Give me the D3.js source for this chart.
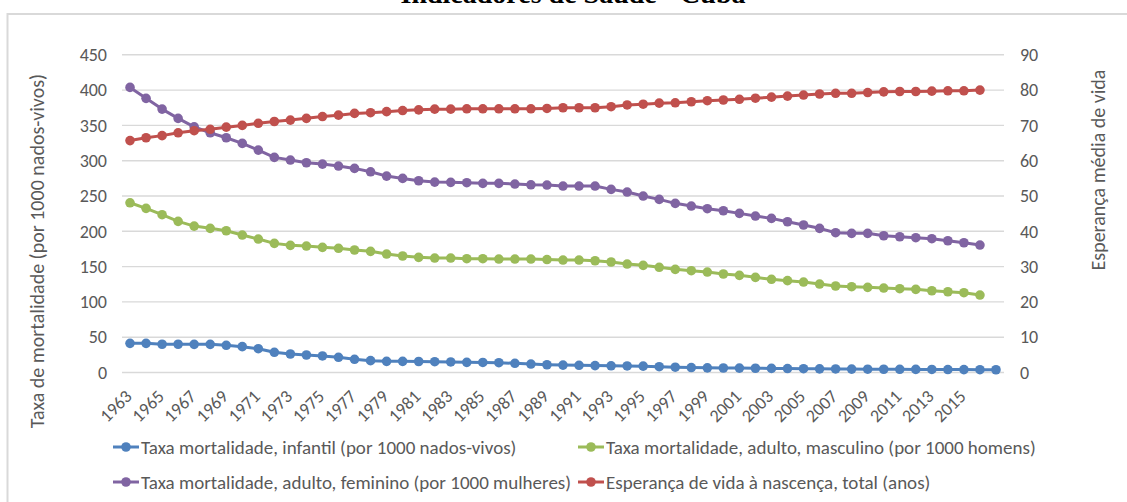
<!DOCTYPE html>
<html>
<head>
<meta charset="utf-8">
<script src="https://cdn.jsdelivr.net/npm/d3@7"></script>
<style>
  html, body { margin: 0; padding: 0; background: #fff; }
  svg { display: block; }
</style>
</head>
<body>
<svg id="chart" width="1127" height="502"></svg>
<script>
const years = [1963,1964,1965,1966,1967,1968,1969,1970,1971,1972,1973,1974,1975,1976,1977,1978,1979,1980,
  1981,1982,1983,1984,1985,1986,1987,1988,1989,1990,1991,1992,1993,1994,1995,1996,1997,1998,1999,2000,
  2001,2002,2003,2004,2005,2006,2007,2008,2009,2010,2011,2012,2013,2014,2015,2016,2017];

const xTickLabels = ["1963","1965","1967","1969","1971","1973","1975","1977","1979","1981","1983","1985",
  "1987","1989","1991","1993","1995","1997","1999","2001","2003","2005","2007","2009","2011","2013","2015"];

const leftTicks = [0,50,100,150,200,250,300,350,400,450];
const rightTicks = [0,10,20,30,40,50,60,70,80,90];

// Taxa mortalidade, infantil (por 1000 nados-vivos) 1963-2017
const infantil = [41.3,41.3,40.0,40.0,39.9,39.9,38.5,36.6,33.7,28.6,26.2,24.8,23.4,21.5,18.7,16.8,15.8,15.8,
  15.6,15.3,14.9,14.4,14.2,13.9,13.0,12.0,11.0,10.5,10.2,9.8,9.5,9.3,9.0,8.2,7.5,7.0,6.6,6.4,
  6.2,6.0,5.8,5.6,5.4,5.2,5.0,4.8,4.7,4.6,4.5,4.4,4.3,4.2,4.1,4.0,3.9];

// Taxa mortalidade, adulto, masculino (por 1000 homens) 1963-2016
const masculino = [240.4,232.5,223.5,214.1,207.4,204.2,200.8,194.7,189.0,182.9,180.1,179.1,177.3,175.9,
  173.5,171.6,167.8,165.0,163.1,162.1,162.1,161.2,161.2,160.7,160.7,160.7,160.0,159.3,159.3,158.3,
  156.5,153.6,151.8,149.0,146.1,144.2,142.3,139.5,137.6,134.8,132.0,130.1,128.1,125.3,122.5,121.5,
  120.6,119.6,118.7,117.8,115.8,114.4,113.0,109.7];

// Taxa mortalidade, adulto, feminino (por 1000 mulheres) 1963-2016
const feminino = [403.8,388.3,373.1,359.9,348.0,339.6,332.5,324.5,315.0,304.7,300.9,297.1,295.2,292.4,
  289.1,284.3,278.2,274.9,271.6,269.7,269.3,268.8,267.9,267.9,266.9,265.9,265.5,264.1,264.1,264.1,
  259.4,255.6,249.9,245.2,239.6,235.8,232.0,229.1,225.4,221.6,218.3,213.5,208.9,204.2,198.0,197.1,
  197.1,193.7,192.3,190.9,189.5,186.6,183.8,180.5];

// Esperança de vida à nascença, total (anos) 1963-2016
const esperanca = [65.7,66.5,67.1,67.9,68.5,68.9,69.5,70.0,70.6,71.1,71.5,72.0,72.5,72.9,73.4,73.6,
  73.9,74.2,74.4,74.6,74.6,74.7,74.7,74.7,74.7,74.7,74.8,75.0,75.0,75.0,75.3,75.8,76.0,76.3,76.4,
  76.7,77.0,77.2,77.4,77.7,78.0,78.3,78.6,78.9,79.1,79.1,79.3,79.5,79.6,79.6,79.7,79.8,79.8,80.0];

const seriesNames = [
  "Taxa mortalidade, infantil (por 1000 nados-vivos)",
  "Taxa mortalidade, adulto, masculino (por 1000 homens)",
  "Taxa mortalidade, adulto, feminino (por 1000 mulheres)",
  "Esperança de vida à nascença, total (anos)"
];
const seriesColors = ["#4f81bd", "#9bbb59", "#8064a2", "#c0504d"];

const titleText = "Indicadores de Saúde - Cuba";
const leftAxisTitle = "Taxa de mortalidade (por 1000 nados-vivos)";
const rightAxisTitle = "Esperança média de vida";

// ---------- layout ----------
const FONT = "Carlito, Lato, 'Open Sans', sans-serif";
const TEXT_COLOR = "#595959";
const GRID_COLOR = "#d9d9d9";
const TICK_SIZE = 18;
const LEGEND_SIZE = 19;
const TITLE_SIZE = 20;
const plot = { left: 122, right: 1004, top: 54.8, bottom: 372.5 };

const svg = d3.select("#chart");
svg.append("rect").attr("width", 1127).attr("height", 502).attr("fill", "#fff");

// outer chart frame (only top & left edges are visible)
svg.append("path")
  .attr("d", "M7.5,520 V14 H1140")
  .attr("fill", "none").attr("stroke", GRID_COLOR).attr("stroke-width", 2);

// title (mostly clipped at the top, as in the reference)
svg.append("text")
  .attr("x", 573).attr("y", 3)
  .attr("text-anchor", "middle")
  .attr("font-family", "'Liberation Serif', 'Times New Roman', serif")
  .attr("font-weight", "bold").attr("font-size", 28)
  .attr("fill", "#000")
  .text(titleText);

const x = d3.scaleBand().domain(years).range([plot.left, plot.right]).padding(0);
const cx = d => x(d) + x.bandwidth() / 2;
const yL = d3.scaleLinear().domain([0, 450]).range([plot.bottom, plot.top]);
const yR = d3.scaleLinear().domain([0, 90]).range([plot.bottom, plot.top]);

// gridlines
svg.append("g").selectAll("line").data(leftTicks).join("line")
  .attr("x1", plot.left).attr("x2", plot.right)
  .attr("y1", d => yL(d)).attr("y2", d => yL(d))
  .attr("stroke", GRID_COLOR).attr("stroke-width", 1.4);

// left axis
const gL = svg.append("g").attr("transform", `translate(${plot.left},0)`)
  .call(d3.axisLeft(yL).tickValues(leftTicks).tickSize(0).tickPadding(15));
gL.select(".domain").remove();
gL.selectAll("text").attr("font-family", FONT).attr("font-size", TICK_SIZE).attr("fill", TEXT_COLOR);

// right axis
const gR = svg.append("g").attr("transform", `translate(${plot.right},0)`)
  .call(d3.axisRight(yR).tickValues(rightTicks).tickSize(0).tickPadding(16));
gR.select(".domain").remove();
gR.selectAll("text").attr("font-family", FONT).attr("font-size", TICK_SIZE).attr("fill", TEXT_COLOR);

// bottom axis
const tickYears = xTickLabels.map(Number);
const gB = svg.append("g").attr("transform", `translate(0,${plot.bottom})`)
  .call(d3.axisBottom(x).tickValues(tickYears).tickSize(0).tickFormat((d, i) => xTickLabels[i]));
gB.select(".domain").remove();
gB.selectAll("text")
  .attr("x", 0).attr("y", 0).attr("dy", null)
  .attr("transform", "translate(3,25) rotate(-45)")
  .style("text-anchor", "end")
  .attr("font-family", FONT).attr("font-size", TICK_SIZE).attr("fill", TEXT_COLOR);

// axis titles
svg.append("text")
  .attr("transform", "translate(37,251) rotate(-90)")
  .attr("text-anchor", "middle").attr("dominant-baseline", "central")
  .attr("font-family", FONT).attr("font-size", TITLE_SIZE).attr("fill", TEXT_COLOR)
  .text(leftAxisTitle);
svg.append("text")
  .attr("transform", "translate(1098,170) rotate(-90)")
  .attr("text-anchor", "middle").attr("dominant-baseline", "central")
  .attr("font-family", FONT).attr("font-size", TITLE_SIZE).attr("fill", TEXT_COLOR)
  .text(rightAxisTitle);

// series
const seriesData = [
  { values: infantil, y: yL },
  { values: masculino, y: yL },
  { values: feminino, y: yL },
  { values: esperanca, y: yR }
];
seriesData.forEach((s, k) => {
  const pts = s.values.map((v, i) => ({ year: years[i], v }));
  const line = d3.line().x(d => cx(d.year)).y(d => s.y(d.v));
  const g = svg.append("g");
  g.append("path").datum(pts).attr("d", line)
    .attr("fill", "none").attr("stroke", seriesColors[k]).attr("stroke-width", 3)
    .attr("stroke-linejoin", "round");
  g.selectAll("circle").data(pts).join("circle")
    .attr("cx", d => cx(d.year)).attr("cy", d => s.y(d.v)).attr("r", 4.8)
    .attr("fill", seriesColors[k]);
});

// legend (two rows, second column aligned)
const legendCols = [113, 578];
const legendRows = [447, 482];
seriesNames.forEach((name, k) => {
  const px = legendCols[k % 2], py = legendRows[Math.floor(k / 2)];
  const g = svg.append("g").attr("transform", `translate(${px},${py})`);
  g.append("line").attr("x1", 0).attr("x2", 26).attr("y1", 0).attr("y2", 0)
    .attr("stroke", seriesColors[k]).attr("stroke-width", 3);
  g.append("circle").attr("cx", 13).attr("cy", 0).attr("r", 4.8).attr("fill", seriesColors[k]);
  g.append("text").attr("x", 28).attr("y", 0).attr("dominant-baseline", "central")
    .attr("font-family", FONT).attr("font-size", LEGEND_SIZE).attr("fill", TEXT_COLOR)
    .text(name);
});
</script>
</body>
</html>
